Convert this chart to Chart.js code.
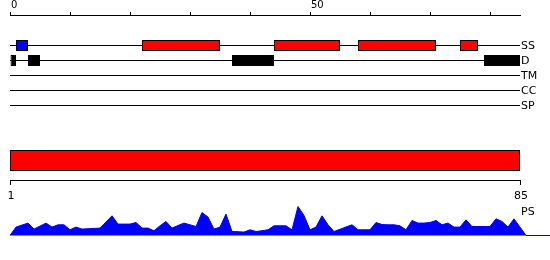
<!DOCTYPE html>
<html><head><meta charset="utf-8">
<script src="https://cdn.jsdelivr.net/npm/chart.js@4.4.0/dist/chart.umd.min.js"></script>
<style>
html,body{margin:0;padding:0;background:#fff;}
#wrap{position:relative;width:550px;height:260px;overflow:hidden;background:#fff;}
canvas{position:absolute;left:0;}
#psLabel{position:absolute;left:521px;top:206px;font-family:"DejaVu Sans";font-size:11px;line-height:11px;color:#000;}
</style></head><body>
<div id="wrap">
<canvas id="tracks" width="550" height="128" style="top:0"></canvas>
<canvas id="domain" width="550" height="50" style="top:150px"></canvas>
<canvas id="ps" width="550" height="40" style="top:200px"></canvas>
<div id="psLabel">PS</div>
</div>
<script>
// ---- data ----
const seqLength = 85;
const trackNames = ['SS', 'D', 'TM', 'CC', 'SP'];
const topTicks = [0, 10, 20, 30, 40, 50, 60, 70, 80];
const topTickLabels = [0, 50];
const ssStrands = [[1, 3]];                               // blue
const ssHelices = [[22, 35], [44, 55], [58, 71], [75, 78]]; // red
const disorder = [[0, 1], [3, 5], [37, 44], [79, 85]];     // black
const domainStart = 1;
const domainEnd = 85;
const bottomTicks = [1, 85];
const psPositions = [];
const psValues = [
  0, 8.4, 10.4, 12.4, 6.4, 9.4, 12.4, 8.4, 10.7, 10.7,
  5.7, 8.4, 6.4, 6.8, 7.1, 7.4, 13.5, 19.7, 11.4, 11.4,
  11.4, 13, 7.4, 7.4, 4.7, 9.7, 14, 7.4, 10, 12.4,
  10.7, 9, 23, 18.4, 6.4, 8.4, 21.4, 4, 3.8, 3.4,
  5.7, 4, 4.8, 5.7, 9.7, 9.7, 9.7, 5.7, 29, 20,
  5.7, 8.4, 19.7, 10.7, 4, 6.2, 8.5, 10.7, 5.7, 5.7,
  5.7, 13, 11, 10.7, 10.7, 9.7, 5.7, 15, 12.4, 12.4,
  13, 15, 10.7, 12.4, 8.4, 8.4, 15.7, 9, 9, 9,
  9, 16.7, 14, 8.4, 16.7, 8.4, 0, 0, 0, 0, 0
];
for (let i = 0; i < psValues.length; i++) psPositions.push(i);

const FONT = 'DejaVu Sans';
const common = {
  responsive: false, animation: false, events: [],
  plugins: { legend: { display: false }, tooltip: { enabled: false } }
};

// ---- feature tracks ----
const trackLines = trackNames.map((n, i) => ({
  type: 'line', label: n,
  data: [{ x: 0, y: i + 1 }, { x: seqLength, y: i + 1 }],
  borderColor: '#000', borderWidth: 1, pointRadius: 0, order: 2
}));
function boxes(ranges, row, color) {
  return {
    type: 'bar', indexAxis: 'y', grouped: false,
    data: ranges.map(r => ({ x: r, y: row })),
    backgroundColor: color, borderColor: '#000', borderWidth: 1,
    borderSkipped: false, inflateAmount: 0, barThickness: 11, order: 1
  };
}
new Chart(document.getElementById('tracks'), {
  type: 'bar',
  data: { datasets: [
    ...trackLines,
    boxes(ssStrands, 1, '#0000ff'),
    boxes(ssHelices, 1, '#ff0000'),
    boxes(disorder, 2, '#000000')
  ] },
  options: {
    ...common,
    layout: { padding: { left: 10, right: 0, top: 0, bottom: 8 } },
    scales: {
      x: {
        type: 'linear', position: 'top', min: 0, max: seqLength, offset: false,
        afterBuildTicks: s => { s.ticks = topTicks.map(v => ({ value: v })); },
        afterFit: s => { s.height = 15; },
        grid: { drawOnChartArea: false, offset: false, tickLength: 3, color: '#000' },
        border: { color: '#000', width: 1 },
        ticks: {
          align: 'start', padding: 1, labelOffset: 1, color: '#000', autoSkip: false, maxRotation: 0,
          font: { family: FONT, size: 10, lineHeight: 1.2 },
          callback: v => topTickLabels.includes(v) ? String(v) : ''
        }
      },
      y: {
        type: 'linear', position: 'right', reverse: true, offset: false,
        min: -1 - 1 / 30, max: 6 - 1 / 30,
        afterBuildTicks: s => { s.ticks = trackNames.map((n, i) => ({ value: i + 1 })); },
        afterFit: s => { s.width = 30; },
        grid: { display: false, drawTicks: false, offset: false },
        border: { display: false },
        ticks: {
          padding: 1, labelOffset: 1, color: '#000', autoSkip: false,
          font: { family: FONT, size: 11 },
          callback: v => trackNames[v - 1] || ''
        }
      }
    }
  }
});

// ---- domain bar with residue axis ----
new Chart(document.getElementById('domain'), {
  type: 'bar',
  data: { datasets: [{
    indexAxis: 'y', grouped: false,
    data: [{ x: [domainStart, domainEnd], y: 0 }],
    backgroundColor: '#ff0000', borderColor: '#000', borderWidth: 1,
    borderSkipped: false, inflateAmount: 0, barThickness: 21
  }] },
  options: {
    ...common,
    layout: { padding: { left: 10, right: 30, top: 0, bottom: 0 } },
    scales: {
      x: {
        type: 'linear', position: 'bottom', min: domainStart, max: domainEnd, offset: false,
        afterBuildTicks: s => { s.ticks = bottomTicks.map(v => ({ value: v })); },
        afterFit: s => { s.height = 20; },
        grid: { drawOnChartArea: false, offset: false, tickLength: 5, color: '#000' },
        border: { color: '#000', width: 1 },
        ticks: { padding: 5, labelOffset: 1, color: '#000', autoSkip: false, maxRotation: 0,
          font: { family: FONT, size: 11 } }
      },
      y: { type: 'linear', display: false, offset: false, min: -0.65, max: 0.35 }
    }
  }
});

// ---- PS profile ----
new Chart(document.getElementById('ps'), {
  type: 'line',
  data: { datasets: [{
    data: psValues.map((v, i) => ({ x: psPositions[i], y: v })),
    fill: 'origin', backgroundColor: '#0000ff', borderColor: '#0000ff',
    borderWidth: 1, pointRadius: 0, tension: 0
  }] },
  options: {
    ...common,
    layout: { padding: { left: 10, right: 0, top: 6, bottom: 4 } },
    scales: {
      x: { type: 'linear', display: false, min: 0, max: 90 },
      y: { type: 'linear', display: false, min: -0.5, max: 29.5 }
    }
  }
});
</script>
</body></html>
